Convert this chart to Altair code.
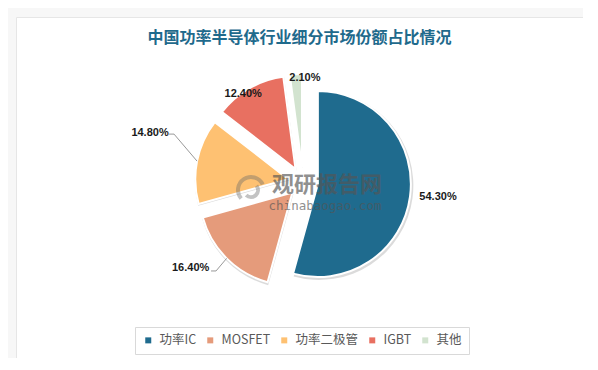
import altair as alt
import pandas as pd

# ---------------- data ----------------
title_text = "中国功率半导体行业细分市场份额占比情况"
categories = ["功率IC", "MOSFET", "功率二极管", "IGBT", "其他"]
shares = [54.3, 16.4, 14.8, 12.4, 2.1]

# ---------------- style / layout ----------------
colors = ["#1f6b8e", "#e59b7b", "#fec172", "#e87061", "#d2e3cf"]
CX, CY = 287, 165      # pie centre inside the card (px)
R = 93                 # pie radius (px)
EXPLODE = 15           # explode distance of every slice (px)
# label offsets from the outer edge point of each slice (px)
label_dx = [28, -36, -47, -6, 9]
label_dy = [0.5, 9.6, -28, 5.6, 4]
# leader-line elbow offsets from the same edge point (px)
elbow_dx = [0, -10.6, -23, 0, 0]
elbow_dy = [0, 12.6, -27, 0, 0]
has_leader = [False, True, True, False, False]

df = pd.DataFrame({
    "order": list(range(len(categories))),
    "category": categories,
    "share": shares,
    "ldx": label_dx,
    "ldy": label_dy,
    "bdx": elbow_dx,
    "bdy": elbow_dy,
    "lead": has_leader,
})

base = alt.Chart(df).transform_window(
    cum="sum(share)", frame=[None, 0], sort=[alt.SortField("order")]
).transform_calculate(
    start="datum.cum - datum.share",
    mid="(datum.cum - datum.share / 2) / 100 * 2 * PI",
    ox=f"{CX} + {EXPLODE} * sin(datum.mid)",
    oy=f"{CY} - {EXPLODE} * cos(datum.mid)",
    sx="datum.ox + 1",
    sy="datum.oy + 1.5",
    ex=f"datum.ox + {R} * sin(datum.mid)",
    ey=f"datum.oy - {R} * cos(datum.mid)",
    lx="datum.ex + datum.ldx",
    ly="datum.ey + datum.ldy",
    bx="datum.ex + datum.bdx",
    by="datum.ey + datum.bdy",
    bx2="datum.bx - 5",
    label="format(datum.share, '.2f') + '%'",
)

theta_scale = alt.Scale(domain=[0, 100], range=[0, 6.283185307])

shadow = base.mark_arc(radius=R + 1.5, color="#000000", opacity=0.14).encode(
    theta=alt.Theta("start:Q", scale=theta_scale),
    theta2="cum:Q",
    x=alt.X("sx:Q", scale=None, axis=None),
    y=alt.Y("sy:Q", scale=None, axis=None),
)

slices = base.mark_arc(radius=R, stroke="white", strokeWidth=2).encode(
    theta=alt.Theta("start:Q", scale=theta_scale),
    theta2="cum:Q",
    x=alt.X("ox:Q", scale=None, axis=None),
    y=alt.Y("oy:Q", scale=None, axis=None),
    color=alt.Color(
        "category:N",
        scale=alt.Scale(domain=categories, range=colors),
        legend=alt.Legend(
            title=None,
            orient="none",
            legendX=119,
            legendY=310,
            direction="horizontal",
            columns=5,
            symbolType="square",
            symbolSize=36,
            symbolStrokeWidth=0,
            labelFont="Noto Sans CJK SC",
            labelFontSize=12.5,
            labelColor="#595959",
            labelOffset=5,
            columnPadding=7,
            strokeColor="#d9d9d9",
            padding=7,
        ),
    ),
    order=alt.Order("order:Q"),
)

lead1 = base.transform_filter("datum.lead").mark_rule(color="#8c8c8c", strokeWidth=0.9).encode(
    x=alt.X("ex:Q", scale=None, axis=None),
    y=alt.Y("ey:Q", scale=None, axis=None),
    x2="bx:Q",
    y2="by:Q",
)
lead2 = base.transform_filter("datum.lead").mark_rule(color="#8c8c8c", strokeWidth=0.9).encode(
    x=alt.X("bx:Q", scale=None, axis=None),
    y=alt.Y("by:Q", scale=None, axis=None),
    x2="bx2:Q",
    y2="by:Q",
)

labels = base.mark_text(
    font="Liberation Sans", fontSize=11, fontWeight="bold", color="#1a1a1a"
).encode(
    x=alt.X("lx:Q", scale=None, axis=None),
    y=alt.Y("ly:Q", scale=None, axis=None),
    text="label:N",
)

title = alt.Chart(pd.DataFrame({"t": [title_text]})).mark_text(
    font="Noto Sans CJK SC", fontSize=16, fontWeight="bold", color="#1f6a8c"
).encode(text="t:N", x=alt.value(283.5), y=alt.value(21))

# watermark (logo swirl + text)
logo = alt.Chart(pd.DataFrame({"a": [4.0, 0.9], "b": [7.4, 3.9], "r": [15, 9], "r2": [11, 5]})).mark_arc(
    color="#6a6a6a", opacity=0.4
).encode(
    theta=alt.Theta("a:Q", scale=None), theta2="b:Q",
    radius=alt.Radius("r:Q", scale=None), radius2="r2:Q",
    x=alt.value(235), y=alt.value(173),
)
wm1 = alt.Chart(pd.DataFrame({"t": ["观研报告网"]})).mark_text(
    font="Noto Sans CJK SC", fontSize=22, fontWeight="bold", color="#555555", opacity=0.65
).encode(text="t:N", x=alt.value(311), y=alt.value(168))
wm2 = alt.Chart(pd.DataFrame({"t": ["chinabaogao.com"]})).mark_text(
    font="DejaVu Sans Mono", fontSize=12.5, color="#555555", opacity=0.65
).encode(text="t:N", x=alt.value(309), y=alt.value(189))

chart = alt.layer(shadow, slices, lead1, lead2, labels, logo, wm1, wm2, title).properties(
    width=567,
    height=341,
    padding={"left": 8, "top": 9, "right": 0, "bottom": 0},
    autosize=alt.AutoSizeParams(type="none"),
    background="#f7f7f7",
).configure_view(fill="white", stroke="#e6e6e6")

chart.save("out.html", embed_options={"renderer": "svg", "actions": False})
